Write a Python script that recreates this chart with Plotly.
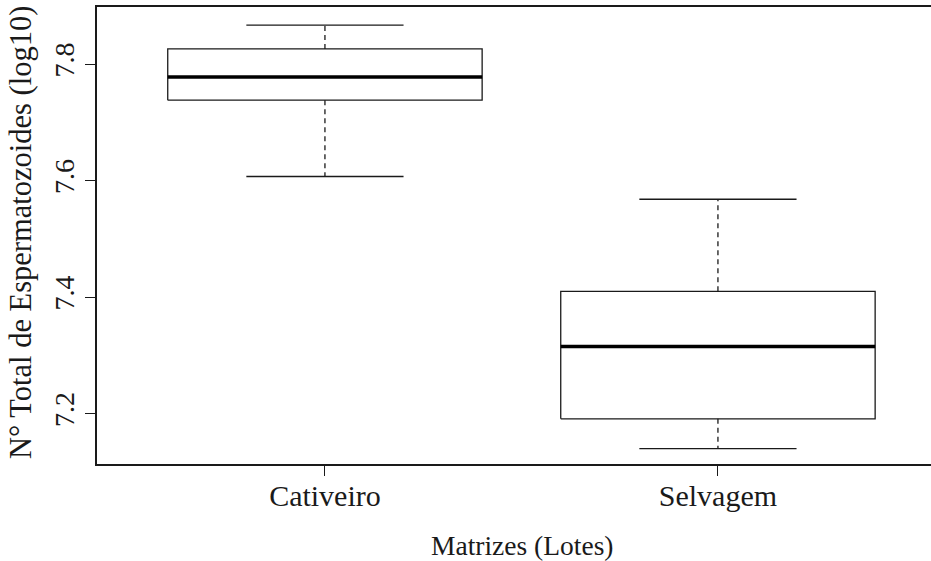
import plotly.graph_objects as go

categories = ["Cativeiro", "Selvagem"]
lower_whisker = [7.607, 7.140]
q1 = [7.738, 7.191]
median = [7.778, 7.315]
q3 = [7.826, 7.410]
upper_whisker = [7.867, 7.568]
y_ticks = [7.2, 7.4, 7.6, 7.8]

BOX_HALF = 0.4
CAP_HALF = 0.2
LINE = "#1a1a1a"
fig = go.Figure()
for i, cat in enumerate(categories):
    x0 = i + 1
    fig.add_trace(go.Scatter(
        x=[x0 - BOX_HALF, x0 + BOX_HALF, x0 + BOX_HALF, x0 - BOX_HALF, x0 - BOX_HALF],
        y=[q1[i], q1[i], q3[i], q3[i], q1[i]],
        mode="lines", line=dict(color=LINE, width=1.3), hoverinfo="skip"))
    fig.add_trace(go.Scatter(
        x=[x0 - BOX_HALF, x0 + BOX_HALF], y=[median[i], median[i]],
        mode="lines", line=dict(color="black", width=3.5), hoverinfo="skip"))
    fig.add_trace(go.Scatter(
        x=[x0, x0, None, x0, x0],
        y=[q3[i], upper_whisker[i], None, q1[i], lower_whisker[i]],
        mode="lines", line=dict(color=LINE, width=1.3, dash="5px,4px"), hoverinfo="skip"))
    fig.add_trace(go.Scatter(
        x=[x0 - CAP_HALF, x0 + CAP_HALF, None, x0 - CAP_HALF, x0 + CAP_HALF],
        y=[upper_whisker[i], upper_whisker[i], None, lower_whisker[i], lower_whisker[i]],
        mode="lines", line=dict(color=LINE, width=1.3), hoverinfo="skip"))

font_family = "Liberation Serif, Times New Roman, serif"
fig.update_layout(
    width=931, height=561,
    margin=dict(l=97, r=0, t=7, b=97, autoexpand=False),
    plot_bgcolor="white", paper_bgcolor="white",
    showlegend=False,
    font=dict(family=font_family, color=LINE),
    xaxis=dict(
        range=[0.42, 0.42 + 834 / 393], automargin=False,
        tickmode="array", tickvals=[1, 2], ticktext=categories,
        ticks="outside", ticklen=10, tickwidth=1.3, tickcolor=LINE,
        showline=True, linecolor=LINE, linewidth=2, mirror=True,
        showgrid=False, zeroline=False,
        tickfont=dict(size=30, family=font_family),
        ticklabelstandoff=-6,
    ),
    yaxis=dict(
        range=[7.1135, 7.898], automargin=False,
        tickmode="array", tickvals=y_ticks, ticktext=[f"{v:.1f}" for v in y_ticks],
        tickangle=-90,
        ticks="outside", ticklen=10, tickwidth=1.3, tickcolor=LINE,
        showline=True, linecolor=LINE, linewidth=2, mirror=False,
        showgrid=False, zeroline=False,
        tickfont=dict(size=28, family=font_family),
    ),
    annotations=[
        dict(text="Matrizes (Lotes)", xref="paper", yref="paper",
             x=(522 - 97) / 834, y=-(545 - 464) / 457, xanchor="center", yanchor="middle",
             showarrow=False, font=dict(size=27.5, family=font_family, color=LINE)),
        dict(text="N° Total de Espermatozoides (log10)", xref="paper", yref="paper",
             x=-(97 - 21) / 834, y=(464 - 233) / 457, xanchor="center", yanchor="middle",
             textangle=-90, showarrow=False,
             font=dict(size=30.5, family=font_family, color=LINE)),
    ],
)
post = (
    "document.documentElement.style.margin='0';"
    "document.body.style.margin='0';document.body.style.padding='0';"
    "document.body.style.overflow='hidden';"
    "var gd=document.getElementById('{plot_id}');"
    "Plotly.relayout(gd,{width:931,height:561});"
)
fig.write_html("out.html", post_script=post, config={"displayModeBar": False})
